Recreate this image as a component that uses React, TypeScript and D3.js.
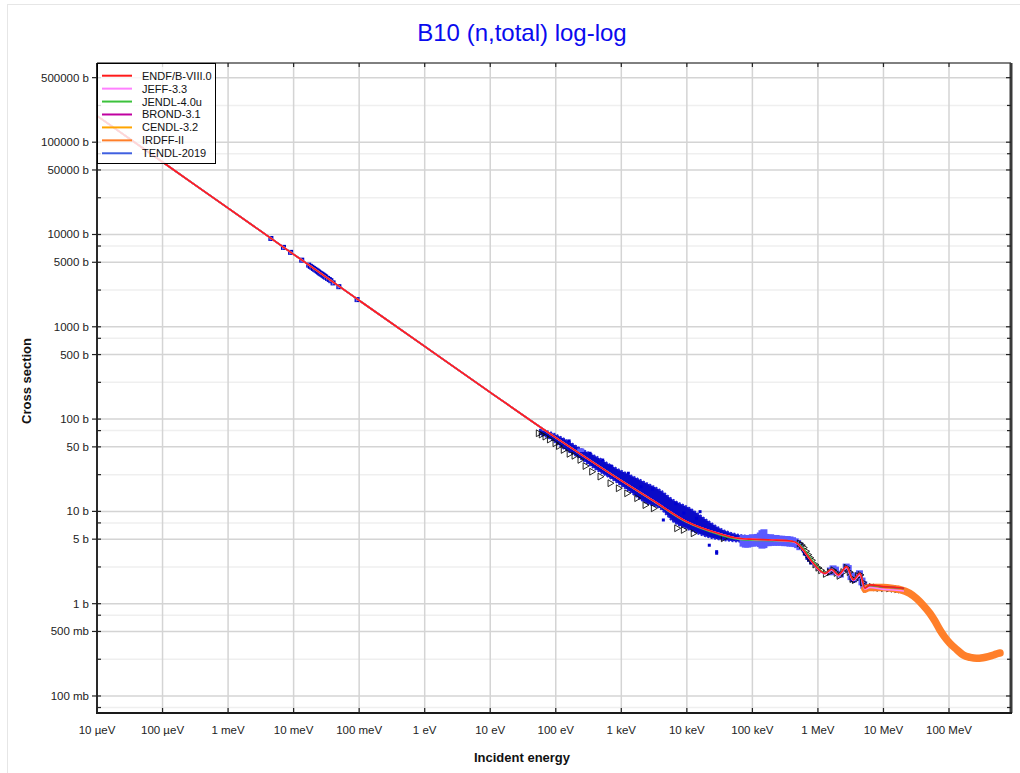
import React from 'react';
import * as d3 from 'd3';

// ---------- evaluated data (energy in eV, cross section in barns) ----------
const energyGrid = [1e-5, 1e-4, 1e-3, 1e-2, 0.1, 1, 10, 100, 300, 1e3, 3e3, 1e4, 3e4, 6e4, 1e5, 2e5, 4e5, 5e5, 5.98e5, 8.5e5, 1.28e6, 1.62e6, 2.05e6, 2.74e6, 3.47e6, 4.37e6, 5.22e6, 6.22e6, 9.9e6, 1.59e7, 2.01e7];
const endfSigma = [193000, 61000, 19300, 6100, 1930, 612, 195, 63, 37.5, 21.5, 13.2, 7.73, 5.79, 5.11, 4.98, 4.9, 4.74, 4.43, 3.82, 2.74, 2.13, 2.36, 2.05, 2.52, 1.81, 2.13, 1.47, 1.6, 1.53, 1.5, 1.47];
const jeffSigma = [193000, 61000, 19300, 6100, 1930, 612, 195, 63, 37.5, 21.5, 13.2, 7.7, 5.78, 5.1, 4.97, 4.88, 4.72, 4.4, 3.8, 2.72, 2.1, 2.3, 2.0, 2.45, 1.78, 2.05, 1.44, 1.5, 1.43, 1.4, 1.37];
const jendlSigma = [193000, 61000, 19300, 6100, 1930, 612, 195, 63, 37.5, 21.5, 13.1, 7.6, 5.65, 5.0, 4.88, 4.82, 4.7, 4.5, 3.95, 2.85, 2.15, 2.34, 2.04, 2.5, 1.8, 2.1, 1.47, 1.58, 1.52, 1.49, 1.46];
const brondSigma = [193000, 61000, 19300, 6100, 1930, 612, 195, 63, 37.5, 21.5, 13.2, 7.72, 5.78, 5.1, 4.97, 4.9, 4.74, 4.43, 3.82, 2.74, 2.13, 2.35, 2.05, 2.5, 1.81, 2.12, 1.47, 1.58, 1.52, 1.49, 1.46];
const cendlSigma = [193000, 61000, 19300, 6100, 1930, 612, 195, 63, 37.5, 21.5, 13.2, 7.72, 5.78, 5.1, 4.97, 4.9, 4.74, 4.43, 3.82, 2.74, 2.13, 2.35, 2.05, 2.5, 1.81, 2.12, 1.47, 1.58, 1.52, 1.49, 1.46];
const tendlSigma = [193000, 61000, 19300, 6100, 1930, 612, 195, 63, 37.5, 21.5, 13.2, 7.72, 5.78, 5.1, 4.97, 4.9, 4.74, 4.43, 3.82, 2.74, 2.13, 2.35, 2.05, 2.5, 1.81, 2.12, 1.47, 1.58, 1.52, 1.49, 1.46];
const irdffEnergy = [5.22e6, 6.2e6, 1e7, 1.5e7, 1.79e7, 2.5e7, 3.2e7, 4e7, 5.1e7, 6e7, 7.28e7, 8.5e7, 1.03e8, 1.3e8, 1.65e8, 2.1e8, 2.63e8, 3.3e8, 3.96e8, 4.8e8, 5.63e8, 6e8];
const irdffSigma = [1.44, 1.5, 1.5, 1.45, 1.42, 1.3, 1.14, 0.97, 0.787, 0.66, 0.519, 0.44, 0.373, 0.32, 0.278, 0.262, 0.256, 0.26, 0.267, 0.278, 0.29, 0.292];

// ---------- experimental data ----------
const thermalE = [0.0045, 0.007, 0.009, 0.0133, 0.017, 0.018, 0.019, 0.02, 0.021, 0.022, 0.023, 0.024, 0.025, 0.026, 0.027, 0.028, 0.029, 0.03, 0.031, 0.033, 0.035, 0.037, 0.04, 0.049, 0.093];
const thermalS = [9050, 7250, 6400, 5270, 4660, 4520, 4410, 4290, 4190, 4100, 4010, 3920, 3830, 3760, 3700, 3630, 3570, 3500, 3440, 3340, 3250, 3160, 2990, 2720, 1970];
const cloudE = [57.4, 72.7, 130, 234, 421, 755, 1360, 2440, 3890, 6210, 11200, 20100, 36000, 64700, 80000];
const cloudHi = [76.2, 74, 61.9, 48.3, 39.1, 30.5, 24.8, 20.2, 17.1, 13.3, 10.8, 8.07, 6.29, 5.55, 5.45];
const cloudLo = [67.3, 64.0, 48.3, 37.6, 28.1, 21.9, 16.3, 12.2, 10.8, 7.73, 6.29, 5.32, 4.9, 4.7, 4.68];
const blueDotE = [333, 1280, 4380, 15900, 28500, 28500, 9000, 2000, 700, 22000, 160, 520, 3000, 6800, 14000, 0.6e6, 0.65e6, 0.7e6, 0.75e6, 0.8e6, 0.9e6, 1.0e6, 3.3e6, 3.5e6, 5.5e6, 0.62e6, 0.68e6, 0.72e6, 0.78e6];
const blueDotS = [42.6, 25.9, 8.07, 9.93, 3.52, 3.66, 9.6, 18.5, 31, 4.3, 58, 36, 17.5, 12.1, 8.4, 3.7, 3.4, 3.2, 3.0, 2.8, 2.6, 2.4, 1.8, 1.75, 1.5, 3.45, 3.1, 2.95, 2.75];
const errE = [72e3, 78e3, 85e3, 92e3, 100e3, 110e3, 120e3, 132e3, 140e3, 150e3, 160e3, 175e3, 190e3, 210e3, 230e3, 255e3, 280e3, 310e3, 340e3, 375e3, 410e3, 450e3, 490e3, 530e3,
  1.55e6, 1.7e6, 1.85e6, 2.2e6, 2.7e6, 2.9e6, 3.2e6, 3.5e6, 3.9e6, 4.3e6, 4.7e6, 5.0e6, 240];
const errS = [4.85, 4.8, 4.8, 4.85, 4.9, 4.9, 4.95, 5.0, 5.1, 5.2, 4.95, 4.9, 4.95, 4.9, 4.9, 4.85, 4.85, 4.8, 4.8, 4.75, 4.7, 4.6, 4.45, 4.2,
  2.25, 2.35, 2.3, 2.1, 2.5, 2.4, 2.0, 1.85, 1.95, 2.1, 1.75, 1.6, 46];
const errD = [0.7, 0.75, 0.75, 0.7, 0.75, 0.7, 0.75, 0.9, 1.15, 1.2, 0.75, 0.7, 0.7, 0.65, 0.65, 0.6, 0.6, 0.6, 0.6, 0.6, 0.55, 0.5, 0.45, 0.4,
  0.22, 0.25, 0.22, 0.18, 0.22, 0.22, 0.2, 0.15, 0.18, 0.2, 0.17, 0.15, 2];
const triE = [54.1, 60, 68.5, 80, 97.3, 110, 130, 160, 190, 234, 280, 353, 473, 672, 900, 1210, 1720, 2300, 3080, 7000, 8830, 12500, 36000,
  0.52e6, 0.56e6, 0.6e6, 0.65e6, 0.7e6, 0.75e6, 0.8e6, 0.9e6, 1.0e6, 1.1e6, 1.3e6, 1.5e6, 1.7e6, 1.9e6, 2.1e6, 2.4e6, 2.7e6, 3.0e6, 3.3e6, 3.6e6, 4.0e6, 4.4e6, 4.8e6, 5.3e6, 5.8e6, 6.5e6, 7.5e6, 8.5e6, 10e6, 12e6, 14e6, 16e6, 18e6];
const triS = [70.2, 68, 64.5, 60, 54.7, 51, 46.3, 42, 40, 36.1, 31, 26.9, 23.8, 20.2, 17.8, 15.7, 13.9, 11.7, 10.8, 6.56, 6.29, 5.79, 5.11,
  4.5, 4.3, 4.05, 3.7, 3.4, 3.15, 2.95, 2.65, 2.45, 2.3, 2.1, 2.2, 2.3, 2.15, 2.0, 2.2, 2.45, 2.2, 1.85, 1.8, 2.0, 2.05, 1.7, 1.45, 1.5, 1.52, 1.5, 1.48, 1.47, 1.46, 1.45, 1.43, 1.42];

// ---------- axes ----------
const xTickValues = [1e-5, 1e-4, 1e-3, 1e-2, 1e-1, 1, 10, 100, 1e3, 1e4, 1e5, 1e6, 1e7, 1e8];
const xTickLabels = ['10 µeV', '100 µeV', '1 meV', '10 meV', '100 meV', '1 eV', '10 eV', '100 eV', '1 keV', '10 keV', '100 keV', '1 MeV', '10 MeV', '100 MeV'];
const yTickValues = [5e5, 1e5, 5e4, 1e4, 5e3, 1e3, 500, 100, 50, 10, 5, 1, 0.5, 0.1];
const yTickLabels = ['500000 b', '100000 b', '50000 b', '10000 b', '5000 b', '1000 b', '500 b', '100 b', '50 b', '10 b', '5 b', '1 b', '500 mb', '100 mb'];
const yMinorValues = [2.5e5, 7.5e4, 2.5e4, 7.5e3, 2.5e3, 750, 250, 75, 25, 7.5, 2.5, 0.75, 0.25, 0.075];

const W = 1020, H = 773;
const L = 97, R = 1011, T = 63, B = 713;
const FONT = "'Liberation Sans', Arial, Helvetica, sans-serif";

export default function App() {
  const x = d3.scaleLog().domain([1e-5, 8.83e8]).range([L, R]);
  const y = d3.scaleLog().domain([7.21e5, 0.0654]).range([T, B]);
  const line = d3.line<[number, number]>().x(d => x(d[0])).y(d => y(d[1])).curve(d3.curveMonotoneX);
  const zip = (E: number[], S: number[]) => E.map((e, i) => [e, S[i]] as [number, number]);

  const libs = [
    { name: 'ENDF/B-VIII.0', color: '#ff1a1a', E: energyGrid, S: endfSigma, w: 1.6 },
    { name: 'JEFF-3.3', color: '#ff80ff', E: energyGrid, S: jeffSigma, w: 1.6 },
    { name: 'JENDL-4.0u', color: '#3cc23c', E: energyGrid, S: jendlSigma, w: 1.6 },
    { name: 'BROND-3.1', color: '#c000a0', E: energyGrid, S: brondSigma, w: 1.6 },
    { name: 'CENDL-3.2', color: '#ffa500', E: energyGrid, S: cendlSigma, w: 1.6 },
    { name: 'IRDFF-II', color: '#ff7f2a', E: irdffEnergy, S: irdffSigma, w: 7.5 },
    { name: 'TENDL-2019', color: '#4060e0', E: energyGrid, S: tendlSigma, w: 1.6 },
  ];
  const drawOrder = [5, 6, 4, 3, 2, 1, 0];

  const area = d3.area<number>()
    .x(i => x(cloudE[i]))
    .y0(i => y(cloudLo[i]))
    .y1(i => y(cloudHi[i]))
    .curve(d3.curveMonotoneX);
  const triPath = d3.symbol().type(d3.symbolTriangle).size(20)() as string;

  return (
    <svg width={W} height={H} style={{ position: 'absolute', left: 0, top: 0, background: '#fff' }} fontFamily={FONT}>
      <rect x={7.5} y={4.5} width={1030} height={800} fill="#fff" stroke="#e6e6e6" />
      <defs>
        <clipPath id="plotclip"><rect x={L} y={T} width={R - L} height={B - T} /></clipPath>
      </defs>
      <text x={522} y={41} textAnchor="middle" fontSize={24} fill="#0a0aee">B10 (n,total) log-log</text>

      {/* grid */}
      {yMinorValues.map((v, i) => (
        <line key={'gm' + i} x1={L} x2={R} y1={y(v)} y2={y(v)} stroke="#efefef" strokeWidth={1.5} />
      ))}
      {yTickValues.map((v, i) => (
        <line key={'gy' + i} x1={L} x2={R} y1={y(v)} y2={y(v)} stroke="#d4d4d4" strokeWidth={1.5} />
      ))}
      {xTickValues.map((v, i) => (
        <line key={'gx' + i} x1={x(v)} x2={x(v)} y1={T} y2={B} stroke="#d4d4d4" strokeWidth={1.5} />
      ))}

      <g clipPath="url(#plotclip)">
        {/* experimental data */}
        <path d={area(d3.range(cloudE.length)) as string} fill="#0a0ac8" stroke="#2020d8" strokeWidth={2} strokeDasharray="2 1.5" />
        {errE.map((e, i) => (
          <rect key={'er' + i} x={x(e) - 3.5} y={y(errS[i] + errD[i])} width={7}
            height={y(errS[i] - errD[i]) - y(errS[i] + errD[i])} fill="#5a5aff" />
        ))}
        {blueDotE.map((e, i) => (
          <rect key={'bd' + i} x={x(e) - 1.5} y={y(blueDotS[i]) - 1.5} width={3} height={3} fill="#0000d0" />
        ))}
        {thermalE.map((e, i) => (
          <g key={'th' + i} transform={`translate(${x(e)},${y(thermalS[i])})`}>
            <rect x={-2.5} y={-2.5} width={5} height={5} fill="#0000c0" />
            <path d={triPath} transform="rotate(90) scale(0.7)" fill="#6a7aff" />
          </g>
        ))}
        {triE.map((e, i) => (
          <path key={'tr' + i} d={triPath} transform={`translate(${x(e)},${y(triS[i])}) rotate(90)`}
            fill="none" stroke="#111" strokeWidth={0.9} />
        ))}

        {/* evaluated libraries */}
        {drawOrder.map(k => {
          const lib = libs[k];
          return (
            <path key={lib.name} d={line(zip(lib.E, lib.S)) as string} fill="none" stroke={lib.color}
              strokeWidth={lib.w} strokeLinecap="round" strokeLinejoin="round" />
          );
        })}
      </g>

      {/* frame */}
      <line x1={L} x2={R} y1={T} y2={T} stroke="#000" strokeWidth={1} />
      <line x1={R} x2={R} y1={T} y2={B} stroke="#3a3a3a" strokeWidth={3} />
      <line x1={L} x2={L} y1={T} y2={B + 1} stroke="#2a2a2a" strokeWidth={2} />
      <line x1={L - 1} x2={R + 1} y1={B} y2={B} stroke="#1a1a1a" strokeWidth={2} />

      {/* y ticks */}
      {yTickValues.map((v, i) => (
        <g key={'yt' + i}>
          <line x1={L - 5} x2={L + 4} y1={y(v)} y2={y(v)} stroke="#222" strokeWidth={1.2} />
          <line x1={R - 5} x2={R} y1={y(v)} y2={y(v)} stroke="#222" strokeWidth={1.2} />
          <text x={L - 8} y={y(v) + 4} textAnchor="end" fontSize={11.5} fill="#222">{yTickLabels[i]}</text>
        </g>
      ))}
      {yMinorValues.map((v, i) => (
        <g key={'ym' + i}>
          <line x1={L} x2={L + 4} y1={y(v)} y2={y(v)} stroke="#222" strokeWidth={1.2} />
          <line x1={R - 4} x2={R} y1={y(v)} y2={y(v)} stroke="#222" strokeWidth={1.2} />
        </g>
      ))}
      {/* x ticks */}
      {xTickValues.map((v, i) => (
        <g key={'xt' + i}>
          <line x1={x(v)} x2={x(v)} y1={B - 5} y2={B} stroke="#222" strokeWidth={1.2} />
          <line x1={x(v)} x2={x(v)} y1={T} y2={T + 4} stroke="#222" strokeWidth={1.2} />
          <text x={x(v)} y={734} textAnchor="middle" fontSize={11.5} fill="#222">{xTickLabels[i]}</text>
        </g>
      ))}

      <text x={522} y={762} textAnchor="middle" fontSize={13} fontWeight="bold" fill="#111">Incident energy</text>
      <text transform="translate(31,381) rotate(-90)" textAnchor="middle" fontSize={13} fontWeight="bold" fill="#111">Cross section</text>

      {/* legend */}
      <rect x={97.5} y={63.5} width={118} height={100} fill="#fff" fillOpacity={0.82} stroke="#000" strokeWidth={1} />
      {libs.map((lib, i) => {
        const yy = 75.7 + i * 12.93;
        return (
          <g key={'lg' + i}>
            <line x1={102} x2={132} y1={yy} y2={yy} stroke={lib.color} strokeWidth={2} />
            <text x={142} y={yy + 4} fontSize={11} fill="#111">{lib.name}</text>
          </g>
        );
      })}
    </svg>
  );
}
